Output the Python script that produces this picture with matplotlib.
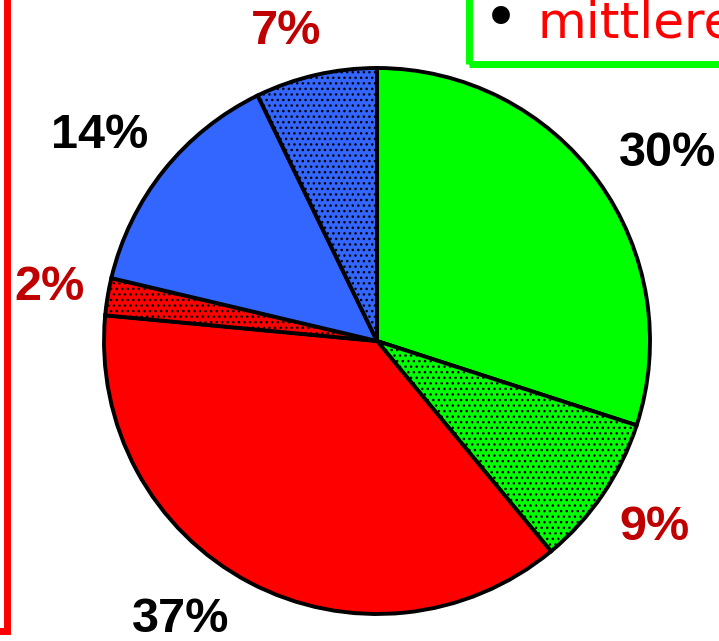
import matplotlib
matplotlib.use("Agg")
import matplotlib.pyplot as plt
from matplotlib.patches import Rectangle

# slice data, clockwise from 12 o'clock
shares = [30.0, 9.0, 37.5, 2.2, 14.1, 7.2]
labels = ["30%", "9%", "37%", "2%", "14%", "7%"]
colors = ["#00ff00", "#00ff00", "#ff0000", "#ff0000", "#3366ff", "#3366ff"]
hatches = [None, "...", None, "...", None, "..."]
label_colors = ["black", "#c00000", "black", "#c00000", "black", "#c00000"]
# label positions in image pixels (x, y from top)
label_pos = [(668, 154), (654, 528), (181, 619), (50, 287), (100, 135), (286, 32)]

W, H = 719, 641
fig = plt.figure(figsize=(W / 100, H / 100), dpi=100)
ax = fig.add_axes([0, 0, 1, 1])

wedges, _ = ax.pie(shares, colors=colors, startangle=90, counterclock=False,
                   center=(377, H - 341), radius=273,
                   wedgeprops=dict(edgecolor="black", linewidth=2.8))
for w, h in zip(wedges, hatches):
    if h:
        w.set_hatch(h)

# pie() resets the limits, so fix the pixel frame afterwards
ax.set_xlim(0, W)
ax.set_ylim(0, H)
ax.set_aspect("equal")
ax.axis("off")

for txt, (x, y), c in zip(labels, label_pos, label_colors):
    ax.text(x, H - y, txt, color=c, fontsize=35, fontweight="bold",
            family="Liberation Sans", ha="center", va="center")

# frame edges of neighbouring boxes on the slide
ax.add_patch(Rectangle((-200, H - 630.5), 206.5, 800, fill=False,
                       edgecolor="red", linewidth=5, clip_on=True))
ax.add_patch(Rectangle((468.5, H - 63.5), 400, 200, fill=False,
                       edgecolor="#00ff00", linewidth=5, clip_on=True))
ax.text(501, H - 21, "\u2022", color="black", fontsize=44, ha="center", va="center",
        family="DejaVu Sans")
ax.text(537, H - 37, "mittlere", color="red", fontsize=36, ha="left",
        va="baseline", family="DejaVu Sans")

fig.savefig("out.png", dpi=100)
